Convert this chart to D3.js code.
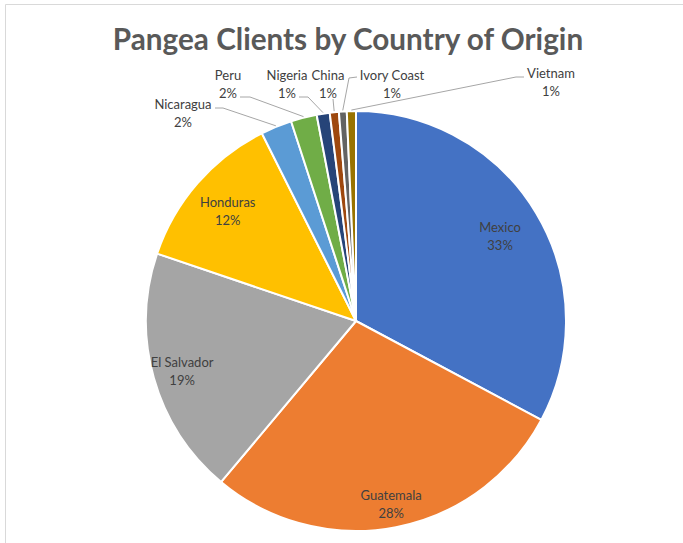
<!DOCTYPE html>
<html>
<head>
<meta charset="utf-8">
<script src="https://cdn.jsdelivr.net/npm/d3@7"></script>
<style>
  body { margin: 0; background: #fff; }
  svg { display: block; }
  .title { font-family: Lato, "Open Sans", sans-serif; font-weight: bold; fill: #595959; }
  .lbl { font-family: Lato, "Open Sans", sans-serif; font-size: 13px; fill: #404040; }
  .leader { fill: none; stroke: #a6a6a6; stroke-width: 1; }
</style>
</head>
<body>
<div id="chart"></div>
<script>
// data (percent of clients)
const countries = ["Mexico", "Guatemala", "El Salvador", "Honduras", "Nicaragua",
                   "Peru", "Nigeria", "China", "Ivory Coast", "Vietnam"];
const shares = [32.8, 28.3, 19.1, 12.4, 2.4, 2.0, 1.0, 0.7, 0.6, 0.7];
const colors = ["#4472C4", "#ED7D31", "#A5A5A5", "#FFC000", "#5B9BD5",
                "#70AD47", "#264478", "#9E480E", "#636363", "#997300"];

const width = 683, height = 543;
const cx = 356, cy = 321, radius = 210;

// where the outside labels sit and how their leader lines bend
const outside = {
    "Nicaragua":   {x: 183, y: 104, pts: [[215, 108], [223, 108]]},
    "Peru":        {x: 228, y: 75,  pts: [[240, 97], [250, 97]]},
    "Nigeria":     {x: 287, y: 75,  pts: [[299, 97], [308, 97]]},
    "China":       {x: 328, y: 75,  pts: [[333, 99]]},
    "Ivory Coast": {x: 392, y: 75,  pts: [[357, 77], [349, 78]]},
    "Vietnam":     {x: 551, y: 73,  pts: [[524, 77], [516, 77]]}
};
// inside label distance from centre, as a fraction of radius
const insideR = {"Mexico": 0.8, "Guatemala": 0.88, "El Salvador": 0.86, "Honduras": 0.81};

const svg = d3.select("#chart").append("svg")
    .attr("width", width)
    .attr("height", height);

// faint frame of the chart area
svg.append("path")
    .attr("d", "M5.5," + height + "V4.5H" + width)
    .attr("fill", "none")
    .attr("stroke", "#d9d9d9");

svg.append("text")
    .attr("class", "title")
    .attr("x", 348)
    .attr("y", 50)
    .attr("text-anchor", "middle")
    .style("font-size", "29.7px")
    .text("Pangea Clients by Country of Origin");

const data = countries.map((c, i) => ({name: c, value: shares[i], color: colors[i]}));

const pie = d3.pie().sort(null).value(d => d.value);
const arcs = pie(data);
const arc = d3.arc().innerRadius(0).outerRadius(radius);

const g = svg.append("g").attr("transform", "translate(" + cx + "," + cy + ")");

g.selectAll("path.slice")
    .data(arcs)
    .enter()
    .append("path")
    .attr("class", "slice")
    .attr("d", arc)
    .attr("fill", d => d.data.color)
    .attr("stroke", "#fff")
    .attr("stroke-width", 2)
    .attr("stroke-linejoin", "round");

const pct = d => Math.round(d.data.value) + "%";

// labels inside the big slices
arcs.filter(d => insideR[d.data.name]).forEach(d => {
    let r = radius * insideR[d.data.name];
    let p = d3.arc().innerRadius(r).outerRadius(r).centroid(d);
    let t = g.append("text")
        .attr("class", "lbl")
        .attr("text-anchor", "middle")
        .attr("x", p[0])
        .attr("y", p[1]);
    t.append("tspan").attr("x", p[0]).attr("dy", "-0.2em").text(d.data.name);
    t.append("tspan").attr("x", p[0]).attr("dy", "1.4em").text(pct(d));
});

// labels outside the small slices, with leader lines
arcs.filter(d => outside[d.data.name]).forEach(d => {
    let o = outside[d.data.name];
    let edge = d3.arc().innerRadius(radius + 1).outerRadius(radius + 1).centroid(d);
    let pts = o.pts.map(p => [p[0] - cx, p[1] - cy]).concat([edge]);
    g.append("path")
        .attr("class", "leader")
        .attr("d", d3.line()(pts));
    let t = svg.append("text")
        .attr("class", "lbl")
        .attr("text-anchor", "middle");
    t.append("tspan").attr("x", o.x).attr("y", o.y + 4.5).text(d.data.name);
    t.append("tspan").attr("x", o.x).attr("y", o.y + 22.5).text(pct(d));
});
</script>
</body>
</html>
